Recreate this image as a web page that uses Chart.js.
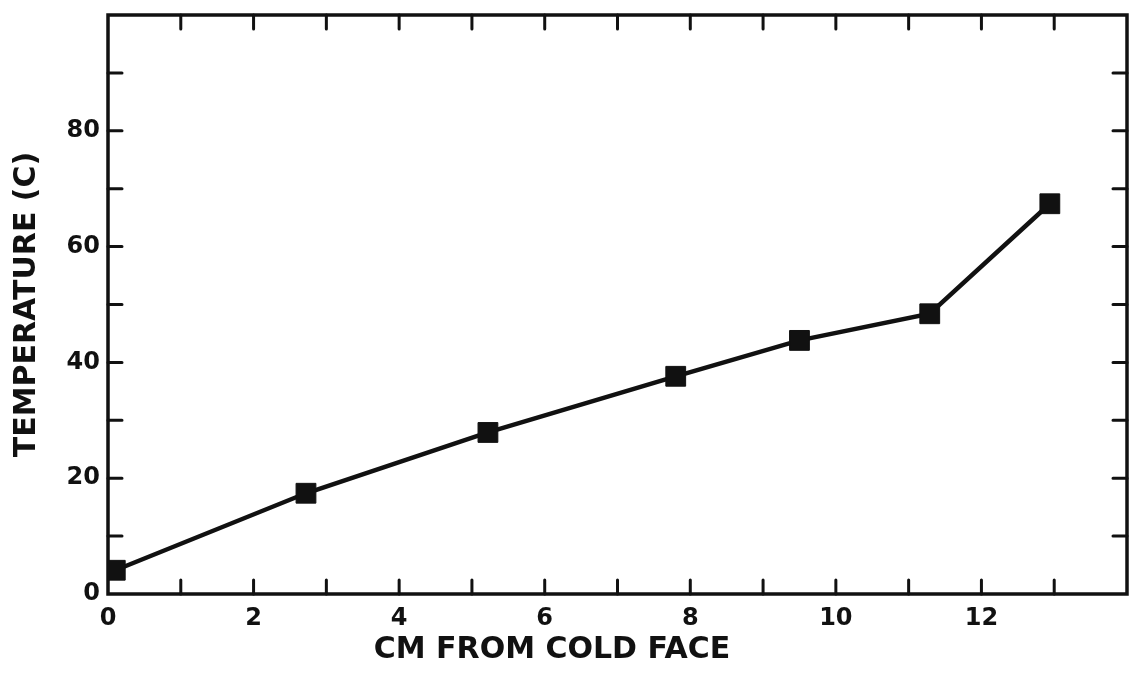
<!DOCTYPE html>
<html lang="en">
<head>
  <meta charset="UTF-8" />
  <title>Temperature vs distance from cold face</title>
  <script src="https://cdn.jsdelivr.net/npm/chart.js"></script>
  <style>
    html, body {
      margin: 0;
      padding: 0;
      background: #fff;
      overflow: hidden;
    }
    canvas {
      display: block;
    }
  </style>
</head>
<body>
  <!-- a bit wider than the window: Chart.js keeps ~13px spare on the right -->
  <canvas id="tempChart" width="1142" height="677"></canvas>

  <script>
    // distance from cold face (cm) and measured temperature (C)
    const distanceCm = [0.1, 2.72, 5.22, 7.8, 9.5, 11.29, 12.94];
    const temperatureC = [4.1, 17.4, 27.9, 37.6, 43.8, 48.4, 67.4];

    const xLabels = [0, 2, 4, 6, 8, 10, 12];
    const yLabels = [0, 20, 40, 60, 80];

    const ink = "#111";
    const fontFamily = "'DejaVu Sans', sans-serif";

    // frame plus inward ticks on all four sides, and the x-axis title
    const framePlugin = {
      id: "frame",
      afterDraw(chart) {
        const { ctx, chartArea: a, scales } = chart;
        ctx.save();
        ctx.strokeStyle = ink;
        ctx.lineCap = "round";

        ctx.lineWidth = 3.5;
        ctx.strokeRect(a.left, a.top, a.right - a.left, a.bottom - a.top);

        ctx.lineWidth = 3;
        const len = 14;
        scales.x.ticks.forEach(t => {
          const px = scales.x.getPixelForValue(t.value);
          if (px <= a.left + 2 || px >= a.right - 2) return;
          ctx.beginPath();
          ctx.moveTo(px, a.bottom);
          ctx.lineTo(px, a.bottom - len);
          ctx.moveTo(px, a.top);
          ctx.lineTo(px, a.top + len);
          ctx.stroke();
        });
        scales.y.ticks.forEach(t => {
          const py = scales.y.getPixelForValue(t.value);
          if (py >= a.bottom - 2 || py <= a.top + 2) return;
          ctx.beginPath();
          ctx.moveTo(a.left, py);
          ctx.lineTo(a.left + len, py);
          ctx.moveTo(a.right, py);
          ctx.lineTo(a.right - len, py);
          ctx.stroke();
        });

        ctx.fillStyle = ink;
        ctx.font = "bold 30px " + fontFamily;
        ctx.textAlign = "center";
        ctx.textBaseline = "middle";
        ctx.fillText("CM FROM COLD FACE", scales.x.getPixelForValue(6.1), 650);
        ctx.restore();
      }
    };

    // drop the extra room Chart.js keeps for the end labels
    function noEdgePadding(s) {
      s.paddingLeft = 0;
      s.paddingRight = 0;
      s.paddingTop = 0;
      s.paddingBottom = 0;
    }

    const ctx = document.getElementById("tempChart").getContext("2d");
    new Chart(ctx, {
      type: "line",
      data: {
        datasets: [{
          data: distanceCm.map((x, i) => ({ x: x, y: temperatureC[i] })),
          borderColor: ink,
          borderWidth: 4.5,
          backgroundColor: ink,
          pointStyle: "rect",
          pointRadius: 14,
          pointBorderWidth: 1,
          pointBackgroundColor: ink,
          pointBorderColor: ink,
          tension: 0,
          fill: false
        }]
      },
      options: {
        responsive: false,
        animation: false,
        devicePixelRatio: 1,
        layout: {
          padding: { left: 0, top: 12, right: 2, bottom: 0 }
        },
        plugins: {
          legend: { display: false },
          tooltip: { enabled: false }
        },
        scales: {
          x: {
            type: "linear",
            min: 0,
            max: 14,
            afterFit: s => { s.height = 83; noEdgePadding(s); },
            grid: { display: false, drawTicks: false },
            border: { display: false },
            ticks: {
              stepSize: 1,
              autoSkip: false,
              maxRotation: 0,
              padding: 10,
              color: ink,
              font: { family: fontFamily, size: 24, weight: "bold" },
              callback: v => xLabels.includes(v) ? String(v) : ""
            }
          },
          y: {
            min: 0,
            max: 100,
            afterFit: s => { s.width = 108; noEdgePadding(s); },
            grid: { display: false, drawTicks: false },
            border: { display: false },
            title: {
              display: true,
              text: "TEMPERATURE (C)",
              color: ink,
              padding: { top: 9, bottom: 0 },
              font: { family: fontFamily, size: 30, weight: "bold" }
            },
            ticks: {
              stepSize: 10,
              autoSkip: false,
              padding: 8,
              color: ink,
              font: { family: fontFamily, size: 24, weight: "bold" },
              callback: v => yLabels.includes(v) ? String(v) : ""
            }
          }
        }
      },
      plugins: [framePlugin]
    });
  </script>
</body>
</html>
